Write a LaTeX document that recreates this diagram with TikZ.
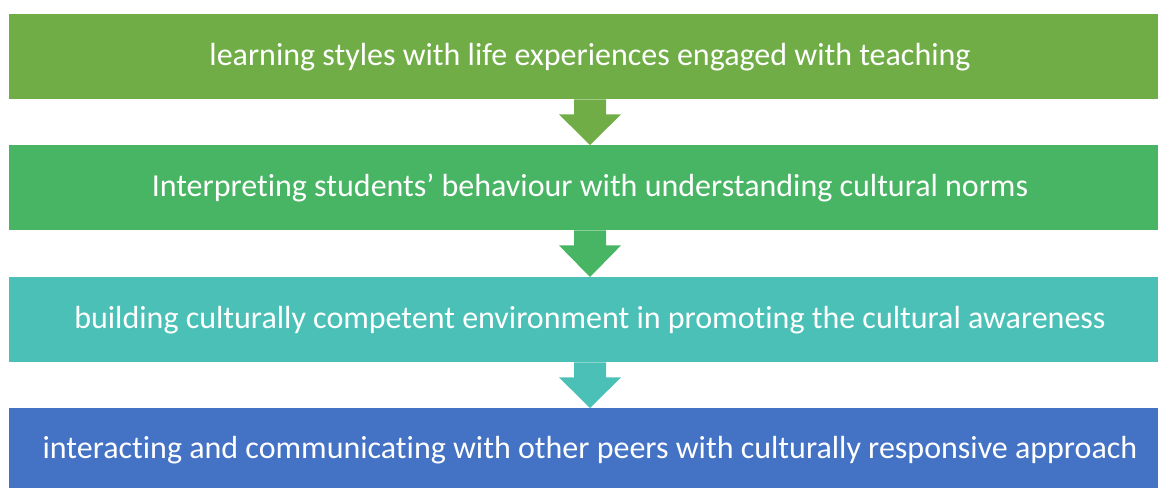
\documentclass[tikz,border=0pt]{standalone}
\usepackage{fontspec}
\setmainfont{Carlito}[Ligatures=NoCommon]
\definecolor{cA}{RGB}{112,173,71}
\definecolor{cB}{RGB}{71,181,99}
\definecolor{cC}{RGB}{75,192,183}
\definecolor{cD}{RGB}{68,114,196}
\tikzset{
  stagebox/.style={fill=#1, draw=none, minimum width=1162pt, minimum height=85pt, inner sep=0pt,
    text=white, font=\fontsize{32}{38}\selectfont, anchor=north},
}
\newcommand{\downarrowshape}[3]{% from node #1 to node #2 colour #3
  \fill[#3] ($(#1.south)+(-16pt,0)$) -- ($(#1.south)+(-16pt,-15pt)$) -- ($(#1.south)+(-31pt,-15pt)$)
   -- (#2.north) -- ($(#1.south)+(31pt,-15pt)$) -- ($(#1.south)+(16pt,-15pt)$) -- ($(#1.south)+(16pt,0)$) -- cycle;}
\usetikzlibrary{calc}
\begin{document}
\begin{tikzpicture}[x=1pt,y=1pt]
\useasboundingbox (0,0) rectangle (1158,-487);
\begin{scope}
\clip (0,0) rectangle (1158,-487);
\node[stagebox=cA] (b1) at (590,-14) {learning styles with life experiences engaged with teaching};
\node[stagebox=cB] (b2) at (590,-145) {Interpreting students’ behaviour with understanding cultural norms};
\node[stagebox=cC] (b3) at (590,-277) {building culturally competent environment in promoting the cultural awareness};
\node[stagebox=cD, minimum height=84pt] (b4) at (590,-408) {interacting and communicating with other peers with culturally responsive approach};
\downarrowshape{b1}{b2}{cA}
\downarrowshape{b2}{b3}{cB}
\downarrowshape{b3}{b4}{cC}
\end{scope}
\end{tikzpicture}
\end{document}
